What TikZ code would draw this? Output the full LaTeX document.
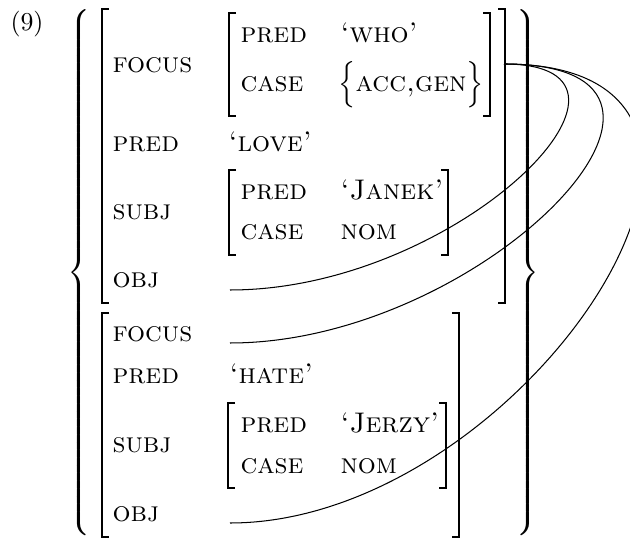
\documentclass[tikz,border=0pt]{standalone}
\begin{document}
\begin{tikzpicture}[x=0.3876pt,y=-0.3876pt,
    attr/.style={anchor=base west,inner sep=0pt,font=\fontsize{11}{13}\selectfont\scshape},
    avm/.style={line width=0.7pt},
    link/.style={line width=0.4pt}]
  \useasboundingbox (0,0) rectangle (630,543);
  \node[anchor=base west,inner sep=0pt] (num) at (10,31) {(9)};
  % the two big braces
  \node[inner sep=0pt,anchor=west] (lbrace) at (67,272.5)
    {$\nulldelimiterspace=0pt\delimitershortfall=0pt\left\{\vrule height 102.5pt depth 97.5pt width 0pt\right.$};
  \node[inner sep=0pt,anchor=west] (rbrace) at (516,272.5)
    {$\nulldelimiterspace=0pt\delimitershortfall=0pt\left.\vrule height 102.5pt depth 97.5pt width 0pt\right\}$};
  % brackets: left/right/top/bottom
  \foreach \l/\r/\t/\b in {102/505/9/303, 102/459/313/537, 229/490/13/116,
                           229/448/170/255, 228/446/403/488}
  {
    \draw[avm] (\l+7,\t) -| (\l,\b) -- (\l+7,\b);
    \draw[avm] (\r-7,\t) -| (\r,\b) -- (\r-7,\b);
  }
  % attributes
  \foreach \n/\a/\x/\y in {focA/focus/112/73, predA/pred/112/152, subjA/subj/112/220,
                           objA/obj/112/288, fpred/pred/240/43, fcase/case/240/92,
                           spredA/pred/240/200, scaseA/case/240/240,
                           focB/focus/112/342, predB/pred/112/384, subjB/subj/112/453,
                           objB/obj/112/522, spredB/pred/240/433, scaseB/case/240/474}
  {
    \node[attr] (\n) at (\x,\y) {\a};
  }
  % values
  \node[attr] (who) at (340,43) {‘who’};
  \node[attr] (cases) at (338,92) {$\Big\{$acc,gen$\Big\}$};
  \node[attr] (love) at (228,152) {‘love’};
  \node[attr] (janek) at (340,200) {‘Janek’};
  \node[attr] (nomA) at (340,240) {nom};
  \node[attr] (hate) at (229,384) {‘hate’};
  \node[attr] (jerzy) at (340,433) {‘Jerzy’};
  \node[attr] (nomB) at (340,474) {nom};
  % shared value links
  \coordinate (hub) at (504,64);
  \coordinate (objAend) at (230,290);
  \coordinate (focBend) at (230,343);
  \coordinate (objBend) at (230,523);
  \draw[link] (objAend) .. controls +(230,0) and +(178,0) .. (hub);
  \draw[link] (focBend) .. controls +(255,0) and +(249,0) .. (hub);
  \draw[link] (objBend) .. controls +(295,0) and +(321,0) .. (hub);
\end{tikzpicture}
\end{document}
